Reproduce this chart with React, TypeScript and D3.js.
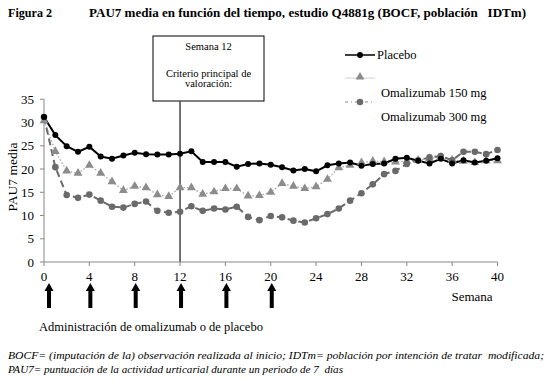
import React from "react";
import * as d3 from "d3";

const weeks = d3.range(0, 41);
const placebo = [31.2, 27.3, 24.9, 23.7, 24.8, 22.7, 22.2, 22.9, 23.5, 23.2, 23.1, 23.1, 23.3, 23.8, 21.5, 21.5, 21.5, 20.5, 21.1, 21.2, 20.9, 20.4, 19.7, 20.0, 19.5, 20.8, 21.2, 21.4, 20.7, 21.1, 21.2, 22.2, 22.4, 21.8, 21.2, 22.2, 21.2, 21.9, 21.4, 21.8, 22.3];
const oma150 = [30.4, 23.8, 19.6, 19.1, 20.8, 19.1, 17.3, 15.4, 16.3, 16.0, 14.5, 14.1, 16.0, 16.0, 14.6, 15.1, 15.8, 15.8, 14.2, 14.3, 15.0, 16.9, 16.3, 15.8, 16.2, 17.8, 20.3, 20.8, 21.4, 21.7, 21.6, 21.5, 21.7, 21.9, 22.3, 22.5, 21.9, 21.7, 21.4, 21.8, 21.8];
const oma300 = [31.2, 20.4, 14.4, 13.8, 14.5, 13.2, 11.9, 11.7, 12.5, 13.0, 11.0, 10.6, 10.8, 12.0, 11.0, 11.5, 11.3, 11.9, 9.7, 9.0, 9.9, 9.6, 8.9, 8.5, 9.4, 10.3, 11.5, 13.2, 14.8, 16.7, 18.9, 19.6, 21.1, 21.9, 22.5, 22.8, 21.9, 23.7, 23.7, 23.2, 24.1];
const xTicks = [0, 4, 8, 12, 16, 20, 24, 28, 32, 36, 40];
const yTicks = [0, 5, 10, 15, 20, 25, 30, 35];
const doseWeeks = [0, 4, 8, 12, 16, 20];
const seriesNames = ["Placebo", "Omalizumab 150 mg", "Omalizumab 300 mg"];

const FONT = "Liberation Serif, DejaVu Serif, serif";

export default function App() {
  const x = d3.scaleLinear().domain([0, 40]).range([44, 497.5]);
  const y = d3.scaleLinear().domain([0, 35]).range([262, 99.3]);
  const line = d3
    .line<number>()
    .x((_, i) => x(weeks[i]))
    .y((d) => y(d));
  const tri = d3.symbol().type(d3.symbolTriangle).size(34)() as string;

  return (
    <svg width={550} height={380} style={{ position: "absolute", left: 0, top: 0, background: "#fff", fontFamily: FONT }}>
      <rect x={0} y={0} width={550} height={380} fill="#fff" />
      {/* Title */}
      <text x={8} y={17} fontSize={12.5} fontWeight="bold" textLength={44} lengthAdjust="spacingAndGlyphs">Figura 2</text>
      <text x={89} y={17} fontSize={12.5} fontWeight="bold" textLength={437} lengthAdjust="spacingAndGlyphs" xmlSpace="preserve">
        PAU7 media en función del tiempo, estudio Q4881g (BOCF, población   IDTm)
      </text>

      {/* Week 12 box */}
      <rect x={153} y={36} width={111} height={65} fill="#fff" stroke="#000" strokeWidth={1} />
      <text x={208.5} y={50} fontSize={10.5} textAnchor="middle">Semana 12</text>
      <text x={208.5} y={77} fontSize={10.5} textAnchor="middle">Criterio principal de</text>
      <text x={208.5} y={87} fontSize={10.5} textAnchor="middle">valoración:</text>
      <line x1={x(12)} x2={x(12)} y1={101} y2={y(0)} stroke="#444" strokeWidth={1.5} />

      {/* Axes */}
      <line x1={x(0)} x2={x(0)} y1={y(35)} y2={y(0)} stroke="#888" strokeWidth={1} />
      <line x1={x(0)} x2={x(40)} y1={y(0)} y2={y(0)} stroke="#888" strokeWidth={1} />
      {yTicks.map((t) => (
        <g key={"y" + t}>
          <line x1={x(0) - 4} x2={x(0)} y1={y(t)} y2={y(t)} stroke="#888" />
          <text x={34} y={y(t) + 4.5} fontSize={13} textAnchor="end">{t}</text>
        </g>
      ))}
      {xTicks.map((t) => (
        <g key={"x" + t}>
          <line x1={x(t)} x2={x(t)} y1={y(0)} y2={y(0) + 4} stroke="#888" />
          <text x={x(t)} y={281} fontSize={13} textAnchor="middle">{t}</text>
        </g>
      ))}
      <text transform={`translate(17,177) rotate(-90)`} fontSize={13.5} textAnchor="middle">PAU7 media</text>
      <text x={472} y={301} fontSize={13} textAnchor="middle">Semana</text>

      {/* Series */}
      <path d={line(oma150) || ""} fill="none" stroke="#a8a8a8" strokeWidth={1.3} strokeDasharray="1.5,2" />
      <path d={line(oma300) || ""} fill="none" stroke="#6a6a6a" strokeWidth={2} strokeDasharray="7,4" />
      <path d={line(placebo) || ""} fill="none" stroke="#000" strokeWidth={2} />
      {oma150.map((v, i) => (
        <path key={"t" + i} d={tri} transform={`translate(${x(weeks[i])},${y(v)})`} fill="#8c8c8c" />
      ))}
      {oma300.map((v, i) => (
        <circle key={"c" + i} cx={x(weeks[i])} cy={y(v)} r={3.3} fill="#6a6a6a" />
      ))}
      {placebo.map((v, i) => (
        <circle key={"p" + i} cx={x(weeks[i])} cy={y(v)} r={3} fill="#000" />
      ))}

      {/* Legend */}
      <line x1={345} x2={375} y1={55} y2={55} stroke="#000" strokeWidth={1.5} />
      <circle cx={360} cy={55} r={3} fill="#000" />
      <text x={377} y={59} fontSize={12.5}>{seriesNames[0]}</text>
      <line x1={345} x2={375} y1={78} y2={78} stroke="#d0d0d0" strokeWidth={1} />
      <path d={tri} transform="translate(360,77)" fill="#8c8c8c" />
      <text x={381} y={97} fontSize={12.5}>{seriesNames[1]}</text>
      <line x1={345} x2={375} y1={102} y2={102} stroke="#8a8a8a" strokeWidth={1.2} strokeDasharray="3,3,1,3" />
      <circle cx={360} cy={102} r={3.3} fill="#6a6a6a" />
      <text x={381} y={121} fontSize={12.5}>{seriesNames[2]}</text>

      {/* Dose arrows */}
      {doseWeeks.map((w) => {
        const cx = x(w) + (w === 0 ? 5 : 1);
        const d = `M${cx},283 L${cx + 4.5},291 L${cx + 2},291 L${cx + 2},308 L${cx - 2},308 L${cx - 2},291 L${cx - 4.5},291 Z`;
        return <path key={"a" + w} d={d} fill="#000" />;
      })}
      <text x={39} y={331} fontSize={12.5}>Administración de omalizumab o de placebo</text>

      {/* Footnote */}
      <text x={8} y={359} fontSize={10.5} fontStyle="italic" textLength={536} lengthAdjust="spacingAndGlyphs" xmlSpace="preserve">
        BOCF= (imputación de la) observación realizada al inicio; IDTm= población por intención de tratar  modificada;
      </text>
      <text x={8} y={373} fontSize={10.5} fontStyle="italic" textLength={335} lengthAdjust="spacingAndGlyphs" xmlSpace="preserve">
        PAU7= puntuación de la actividad urticarial durante un periodo de 7  días
      </text>
    </svg>
  );
}
